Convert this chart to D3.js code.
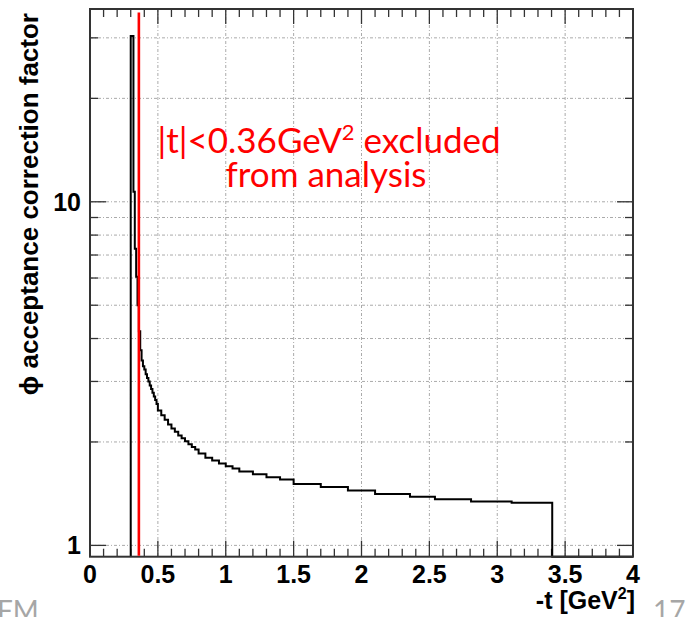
<!DOCTYPE html>
<html>
<head>
<meta charset="utf-8">
<script src="https://cdn.jsdelivr.net/npm/d3@7"></script>
<style>
  body { margin: 0; background: #fff; }
  svg { display: block; }
  .tick-label { font-family: "Liberation Sans", Arial, sans-serif; font-weight: bold; font-size: 25px; fill: #000; }
  .note { font-family: Lato, "Open Sans", sans-serif; fill: #ff0000; font-size: 35px; }
  .page { font-family: Lato, "Open Sans", sans-serif; fill: #a6a6a6; font-size: 28px; }
</style>
</head>
<body>
<div id="container"></div>
<script>
// histogram bin edges (-t in GeV^2) and contents
var binEdges = [0.30, 0.32, 0.33, 0.34, 0.35, 0.36, 0.37, 0.38, 0.39, 0.40,
                0.41, 0.42, 0.43, 0.44, 0.45, 0.46, 0.47, 0.48, 0.49, 0.50,
                0.525, 0.55, 0.575, 0.60, 0.625, 0.65, 0.675, 0.70, 0.725, 0.75, 0.775, 0.80,
                0.85, 0.90, 0.95, 1.00, 1.05, 1.10, 1.20, 1.30, 1.40, 1.50, 1.70, 1.90, 2.10,
                2.357, 2.541, 2.807, 3.106, 3.405];
var binValues = [30.4, 10.7, 7.3, 6.05, 5.0, 4.2, 3.7, 3.45, 3.32,
                 3.25, 3.15, 3.07, 3.0, 2.92, 2.85, 2.78, 2.71, 2.65, 2.58,
                 2.47, 2.39, 2.32, 2.25, 2.19, 2.14, 2.09, 2.05, 2.01, 1.97, 1.935, 1.9,
                 1.85, 1.80, 1.765, 1.73, 1.70, 1.675, 1.64, 1.61, 1.58, 1.555, 1.51, 1.48, 1.445,
                 1.41, 1.385, 1.363, 1.343, 1.33];

var xDomain = [0, 4];
var yDomain = [0.927, 36.4];
var xMajorTicks = [0, 0.5, 1, 1.5, 2, 2.5, 3, 3.5, 4];
var xTickLabels = ["0", "0.5", "1", "1.5", "2", "2.5", "3", "3.5", "4"];
var yGridValues = [1, 2, 3, 4, 5, 6, 7, 8, 9, 10, 20, 30];
var yLabelValues = [1, 10];
var cutValue = 0.36;

var W = 690, H = 617;
var margin = {top: 9, left: 90};
var width = 543, height = 547.7;

var svg = d3.select("#container").append("svg")
	.attr("width", W)
	.attr("height", H);

var g = svg.append("g")
	.attr("transform", "translate(" + margin.left + "," + margin.top + ")");

var x = d3.scaleLinear().domain(xDomain).range([0, width]);
var y = d3.scaleLog().domain(yDomain).range([height, 0]).clamp(true);

// grid
var gridStyle = function(sel) {
	sel.attr("stroke", "#aaa").attr("stroke-width", 1).attr("stroke-dasharray", "3,2,1,2");
};
g.selectAll(".vgrid").data(xMajorTicks.slice(1, -1)).enter().append("line")
	.attr("x1", function(d) { return x(d); }).attr("x2", function(d) { return x(d); })
	.attr("y1", 0).attr("y2", height)
	.call(gridStyle);
g.selectAll(".hgrid").data(yGridValues).enter().append("line")
	.attr("x1", 0).attr("x2", width)
	.attr("y1", function(d) { return y(d); }).attr("y2", function(d) { return y(d); })
	.call(gridStyle);

// ticks, ROOT style (on all four sides, pointing inward)
var xMinor = d3.range(0, 41).map(function(i) { return i / 10; });
var tickColor = "#333";
xMinor.forEach(function(v) {
	var major = Math.abs(v * 2 - Math.round(v * 2)) < 1e-6;
	var len = major ? 16 : 8;
	g.append("line").attr("x1", x(v)).attr("x2", x(v)).attr("y1", height).attr("y2", height - len)
		.attr("stroke", tickColor).attr("stroke-width", 1.3);
	g.append("line").attr("x1", x(v)).attr("x2", x(v)).attr("y1", 0).attr("y2", major ? 15 : 8)
		.attr("stroke", tickColor).attr("stroke-width", 1.3);
});
yGridValues.forEach(function(v) {
	var len = yLabelValues.indexOf(v) >= 0 ? 16 : 8;
	g.append("line").attr("x1", 0).attr("x2", len).attr("y1", y(v)).attr("y2", y(v))
		.attr("stroke", tickColor).attr("stroke-width", 1.3);
	g.append("line").attr("x1", width).attr("x2", width - len).attr("y1", y(v)).attr("y2", y(v))
		.attr("stroke", tickColor).attr("stroke-width", 1.3);
});

// histogram
var pts = [[binEdges[0], yDomain[0]]];
binValues.forEach(function(v, i) { pts.push([binEdges[i], v]); });
pts.push([binEdges[binEdges.length - 1], yDomain[0]]);
pts.push([xDomain[1], yDomain[0]]);

var line = d3.line()
	.x(function(d) { return x(d[0]); })
	.y(function(d) { return y(d[1]); })
	.curve(d3.curveStepAfter);

g.append("path")
	.datum(pts)
	.attr("d", line)
	.attr("fill", "none")
	.attr("stroke", "#000")
	.attr("stroke-width", 2);

// frame
g.append("rect")
	.attr("width", width).attr("height", height)
	.attr("fill", "none").attr("stroke", "#333").attr("stroke-width", 2);

// cut line
g.append("line")
	.attr("x1", x(cutValue)).attr("x2", x(cutValue))
	.attr("y1", 3.5).attr("y2", height - 1)
	.attr("stroke", "#ff0000").attr("stroke-width", 2.6);

// tick labels
g.selectAll(".xl").data(xMajorTicks).enter().append("text")
	.attr("class", "tick-label")
	.attr("x", function(d) { return x(d); })
	.attr("y", height + 26)
	.attr("text-anchor", "middle")
	.text(function(d, i) { return xTickLabels[i]; });

g.selectAll(".yl").data(yLabelValues).enter().append("text")
	.attr("class", "tick-label")
	.attr("x", -9)
	.attr("y", function(d) { return y(d); })
	.attr("dy", "0.36em")
	.attr("text-anchor", "end")
	.text(function(d) { return d; });

// axis titles
var xt = svg.append("text")
	.attr("class", "tick-label")
	.attr("x", margin.left + width + 2)
	.attr("y", 609)
	.attr("text-anchor", "end");
xt.append("tspan").text("-t [GeV");
xt.append("tspan").style("font-size", "16px").attr("dy", "-10").text("2");
xt.append("tspan").attr("dy", "10").text("]");

svg.append("text")
	.attr("class", "tick-label")
	.attr("transform", "translate(38," + (margin.top + 4) + ") rotate(-90)")
	.attr("text-anchor", "end")
	.style("font-size", "26px")
	.text("\u03d5 acceptance correction factor");

// annotation
var n1 = svg.append("text").attr("class", "note").attr("x", 329).attr("y", 153).attr("text-anchor", "middle");
n1.append("tspan").text("|t|<0.36GeV");
n1.append("tspan").style("font-size", "22px").attr("dy", "-13").text("2");
n1.append("tspan").attr("dy", "13").text(" excluded");
svg.append("text").attr("class", "note").attr("x", 326).attr("y", 187).attr("text-anchor", "middle")
	.text("from analysis");

// slide decorations
svg.append("text").attr("class", "page").attr("x", 653).attr("y", 621).text("17");
svg.append("text").attr("class", "page").attr("x", -3).attr("y", 621).text("FM");
</script>
</body>
</html>
